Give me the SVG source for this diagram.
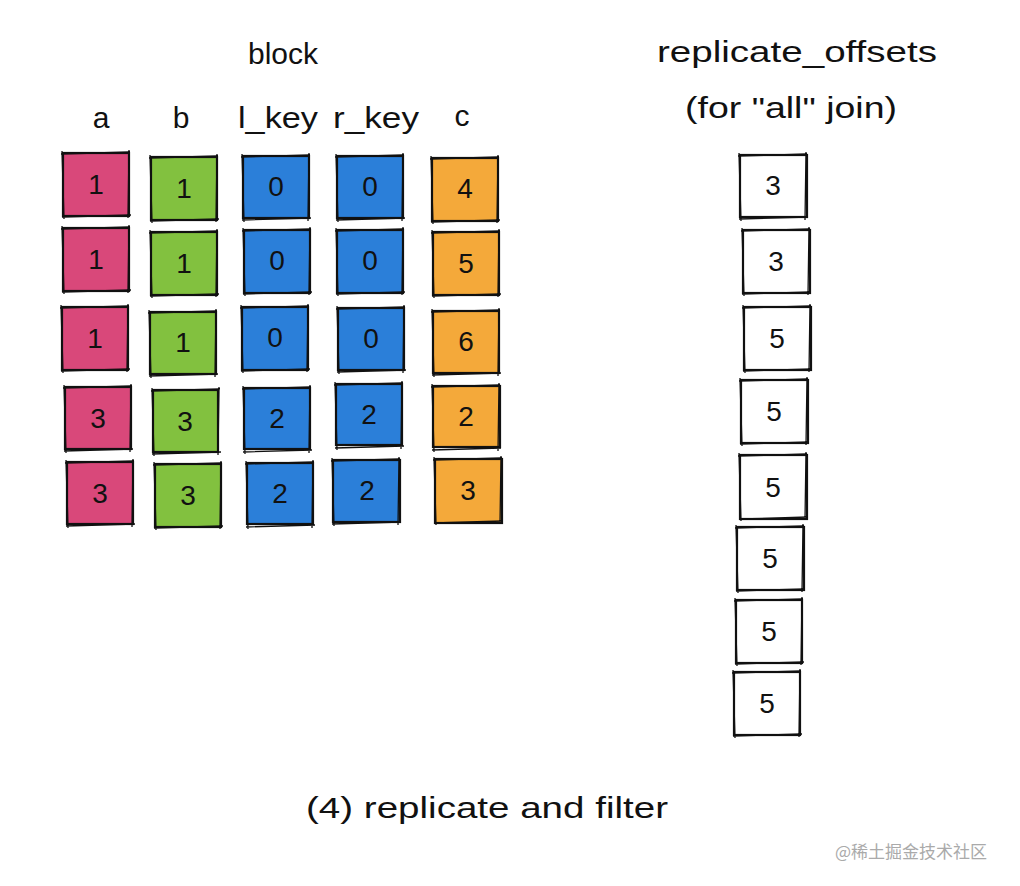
<svg xmlns="http://www.w3.org/2000/svg" xmlns:xlink="http://www.w3.org/1999/xlink" width="1020" height="886" viewBox="0 0 1020 886">
<style>
.t{font-family:"Liberation Sans","DejaVu Sans",sans-serif;fill:#111;text-anchor:middle}
.h{font-size:30px}
.n{font-size:28px}
.box{stroke:#111;stroke-width:2.2}
.sk{fill:none;stroke:#111;stroke-width:1.3}
.pk{fill:#d9487a}.gr{fill:#82c13f}.bl{fill:#2b7fd9}.or{fill:#f4a93a}.wh{fill:#fff}
.wm{font-family:"Noto Sans CJK SC",sans-serif;font-size:17px;fill:#aaa}
</style>
<defs>
<path id="sk" d="M-2 1 L67 -1 M66 -3 L65 65 M68 62 L-1 64 M1 66 L-1 -2"/>
</defs>
<rect width="1020" height="886" fill="#fff"/>
<text class="t h" x="283" y="64">block</text>
<text class="t h" x="101" y="128">a</text>
<text class="t h" x="181" y="128">b</text>
<text class="t h" x="278" y="128" textLength="80" lengthAdjust="spacingAndGlyphs">l_key</text>
<text class="t h" x="376" y="128" textLength="86" lengthAdjust="spacingAndGlyphs">r_key</text>
<text class="t h" x="462" y="126">c</text>
<text class="t h" x="797" y="62" textLength="280" lengthAdjust="spacingAndGlyphs">replicate_offsets</text>
<text class="t h" x="791" y="118" textLength="212" lengthAdjust="spacingAndGlyphs">(for "all" join)</text>
<text class="t h" x="487" y="818" textLength="362" lengthAdjust="spacingAndGlyphs">(4) replicate and filter</text>
<text class="wm" x="835" y="858">@稀土掘金技术社区</text>
<g id="connectors"/>
<g id="col-a">
<g id="a1"><rect class="box pk" x="63" y="153" width="66" height="63"/><use href="#sk" class="sk" x="63" y="153"/><text class="t n" x="96" y="194">1</text></g>
<g id="a2"><rect class="box pk" x="63" y="228" width="66" height="63"/><use href="#sk" class="sk" x="63" y="228"/><text class="t n" x="96" y="269">1</text></g>
<g id="a3"><rect class="box pk" x="62" y="307" width="66" height="63"/><use href="#sk" class="sk" x="62" y="307"/><text class="t n" x="95" y="348">1</text></g>
<g id="a4"><rect class="box pk" x="65" y="387" width="66" height="62"/><use href="#sk" class="sk" x="65" y="387"/><text class="t n" x="98" y="428">3</text></g>
<g id="a5"><rect class="box pk" x="67" y="462" width="66" height="62"/><use href="#sk" class="sk" x="67" y="462"/><text class="t n" x="100" y="503">3</text></g>
</g>
<g id="col-b">
<g id="b1"><rect class="box gr" x="151" y="157" width="66" height="63"/><use href="#sk" class="sk" x="151" y="157"/><text class="t n" x="184" y="198">1</text></g>
<g id="b2"><rect class="box gr" x="151" y="232" width="66" height="63"/><use href="#sk" class="sk" x="151" y="232"/><text class="t n" x="184" y="273">1</text></g>
<g id="b3"><rect class="box gr" x="150" y="312" width="66" height="62"/><use href="#sk" class="sk" x="150" y="312"/><text class="t n" x="183" y="352">1</text></g>
<g id="b4"><rect class="box gr" x="153" y="390" width="65" height="62"/><use href="#sk" class="sk" x="153" y="390"/><text class="t n" x="185" y="431">3</text></g>
<g id="b5"><rect class="box gr" x="155" y="464" width="66" height="63"/><use href="#sk" class="sk" x="155" y="464"/><text class="t n" x="188" y="505">3</text></g>
</g>
<g id="col-lkey">
<g id="l1"><rect class="box bl" x="243" y="156" width="66" height="62"/><use href="#sk" class="sk" x="243" y="156"/><text class="t n" x="276" y="196">0</text></g>
<g id="l2"><rect class="box bl" x="244" y="230" width="66" height="63"/><use href="#sk" class="sk" x="244" y="230"/><text class="t n" x="277" y="270">0</text></g>
<g id="l3"><rect class="box bl" x="242" y="307" width="66" height="63"/><use href="#sk" class="sk" x="242" y="307"/><text class="t n" x="275" y="347">0</text></g>
<g id="l4"><rect class="box bl" x="244" y="388" width="66" height="61"/><use href="#sk" class="sk" x="244" y="388"/><text class="t n" x="277" y="428">2</text></g>
<g id="l5"><rect class="box bl" x="247" y="463" width="66" height="61"/><use href="#sk" class="sk" x="247" y="463"/><text class="t n" x="280" y="503">2</text></g>
</g>
<g id="col-rkey">
<g id="r1"><rect class="box bl" x="337" y="156" width="66" height="62"/><use href="#sk" class="sk" x="337" y="156"/><text class="t n" x="370" y="196">0</text></g>
<g id="r2"><rect class="box bl" x="337" y="230" width="66" height="63"/><use href="#sk" class="sk" x="337" y="230"/><text class="t n" x="370" y="270">0</text></g>
<g id="r3"><rect class="box bl" x="338" y="308" width="66" height="62"/><use href="#sk" class="sk" x="338" y="308"/><text class="t n" x="371" y="348">0</text></g>
<g id="r4"><rect class="box bl" x="336" y="384" width="66" height="61"/><use href="#sk" class="sk" x="336" y="384"/><text class="t n" x="369" y="424">2</text></g>
<g id="r5"><rect class="box bl" x="333" y="460" width="67" height="62"/><use href="#sk" class="sk" x="333" y="460"/><text class="t n" x="367" y="500">2</text></g>
</g>
<g id="col-c">
<g id="c1"><rect class="box or" x="432" y="158" width="66" height="63"/><use href="#sk" class="sk" x="432" y="158"/><text class="t n" x="465" y="198">4</text></g>
<g id="c2"><rect class="box or" x="433" y="232" width="66" height="63"/><use href="#sk" class="sk" x="433" y="232"/><text class="t n" x="466" y="273">5</text></g>
<g id="c3"><rect class="box or" x="433" y="311" width="66" height="62"/><use href="#sk" class="sk" x="433" y="311"/><text class="t n" x="466" y="351">6</text></g>
<g id="c4"><rect class="box or" x="433" y="386" width="67" height="61"/><use href="#sk" class="sk" x="433" y="386"/><text class="t n" x="466" y="426">2</text></g>
<g id="c5"><rect class="box or" x="435" y="459" width="67" height="64"/><use href="#sk" class="sk" x="435" y="459"/><text class="t n" x="468" y="500">3</text></g>
</g>
<g id="offsets">
<g id="o1"><rect class="box wh" x="740" y="155" width="67" height="62"/><use href="#sk" class="sk" x="740" y="155"/><text class="t n" x="773" y="195">3</text></g>
<g id="o2"><rect class="box wh" x="743" y="230" width="67" height="63"/><use href="#sk" class="sk" x="743" y="230"/><text class="t n" x="776" y="271">3</text></g>
<g id="o3"><rect class="box wh" x="744" y="307" width="67" height="63"/><use href="#sk" class="sk" x="744" y="307"/><text class="t n" x="777" y="348">5</text></g>
<g id="o4"><rect class="box wh" x="741" y="380" width="67" height="63"/><use href="#sk" class="sk" x="741" y="380"/><text class="t n" x="774" y="421">5</text></g>
<g id="o5"><rect class="box wh" x="740" y="455" width="67" height="64"/><use href="#sk" class="sk" x="740" y="455"/><text class="t n" x="773" y="497">5</text></g>
<g id="o6"><rect class="box wh" x="737" y="527" width="67" height="63"/><use href="#sk" class="sk" x="737" y="527"/><text class="t n" x="770" y="568">5</text></g>
<g id="o7"><rect class="box wh" x="736" y="600" width="66" height="63"/><use href="#sk" class="sk" x="736" y="600"/><text class="t n" x="769" y="641">5</text></g>
<g id="o8"><rect class="box wh" x="734" y="672" width="66" height="63"/><use href="#sk" class="sk" x="734" y="672"/><text class="t n" x="767" y="713">5</text></g>
</g>
</svg>
